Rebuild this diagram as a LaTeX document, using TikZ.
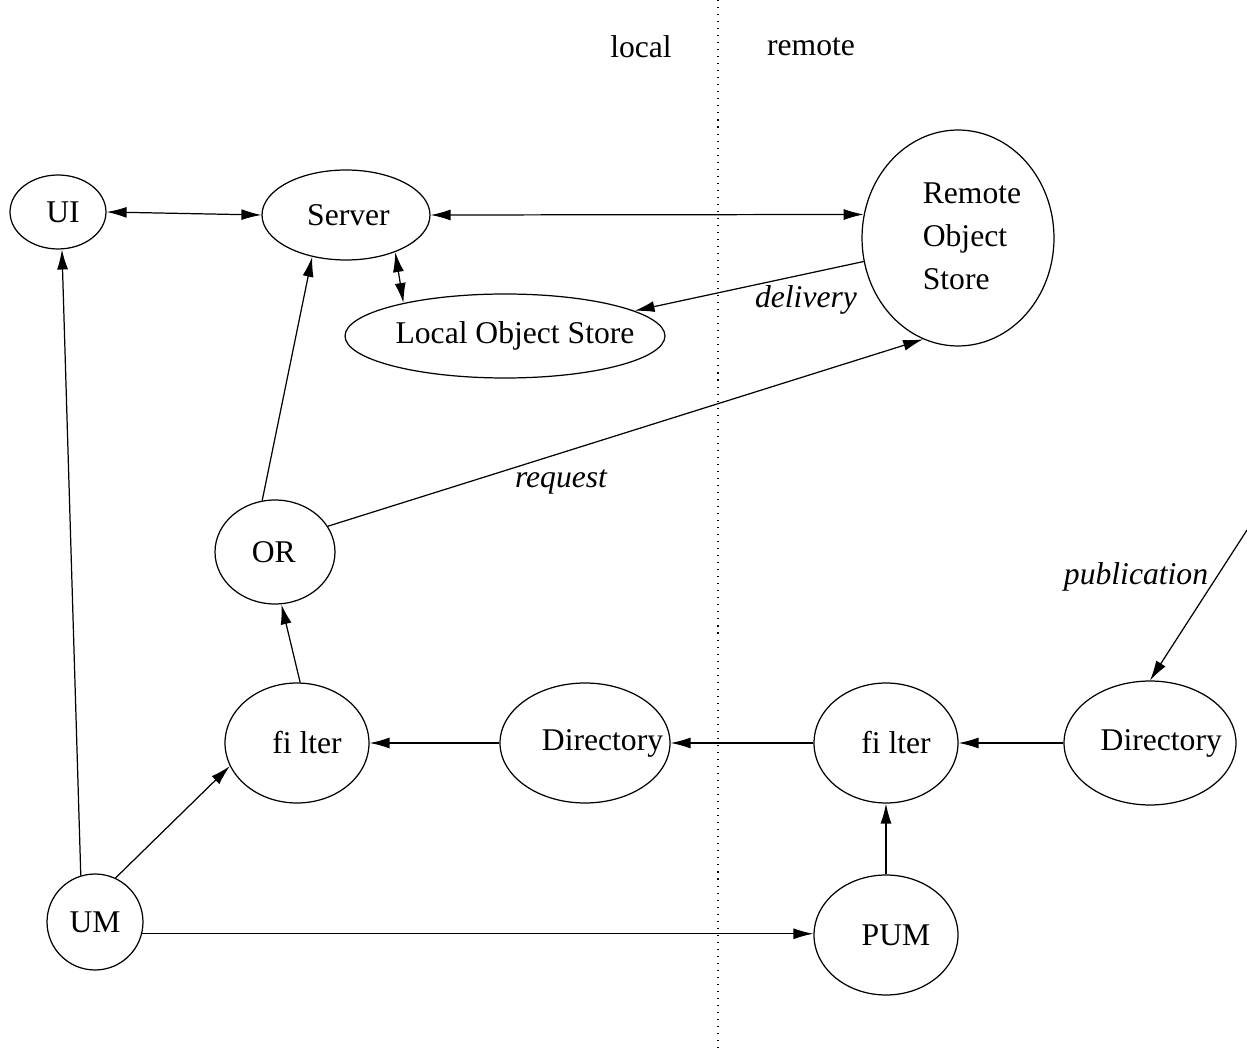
\documentclass[tikz,border=0pt]{standalone}
\usepackage{fontspec}
\setmainfont{Liberation Serif}
\usetikzlibrary{shapes.geometric,arrows.meta}

% text of a node, moved right by half of #1, without growing the node
\newcommand{\ntext}[2]{\makebox[0pt]{\hspace*{#1}#2}}

\begin{document}
\begin{tikzpicture}[
  x=0.02cm, y=-0.02cm,
  font=\fontsize{18}{24.5}\selectfont,
  line width=0.7pt,
  proc/.style 2 args={draw, ellipse, inner sep=0pt, minimum width=#1cm, minimum height=#2cm},
  arr/.style={-{Latex[length=0.4cm,width=0.22cm]}},
  biarr/.style={{Latex[length=0.4cm,width=0.22cm]}-{Latex[length=0.4cm,width=0.22cm]}},
  note/.style={font=\fontsize{18}{22}\selectfont\itshape},
]
  \useasboundingbox (0,0) rectangle (1247,1053);

  % local / remote split
  \draw[line width=0.6pt, dash pattern=on 0.6pt off 3.4pt] (718,0) -- (718,1053);
  \node (lloc) at (641,47) {local};
  \node (lrem) at (811,47) {remote};

  % Top row: user side and object stores
  \node[proc={1.92}{1.48}] (ui)  at (58,212)  {\ntext{0.2cm}{UI}};
  \node[proc={3.36}{1.8}]  (srv) at (346,215) {\ntext{0.1cm}{Server}};
  \node[proc={6.4}{1.68}]  (los) at (505,336) {\ntext{0.4cm}{Local Object Store}};
  \node[proc={3.84}{4.32}] (ros) at (958,238)
    {\ntext{0.56cm}{\begin{tabular}{@{}l@{}}Remote\\Object\\Store\end{tabular}}};

  % Middle: object requester
  \node[proc={2.4}{2.08}] (or) at (275,552) {\ntext{-0.05cm}{OR}};

  % Filter chain
  \node[proc={2.88}{2.4}]  (fl)  at (297,743)  {\ntext{0.4cm}{fi lter}};
  \node[proc={3.4}{2.4}]   (dl)  at (585,743)  {\ntext{0.7cm}{Directory}};
  \node[proc={2.88}{2.4}]  (fr)  at (886,743)  {\ntext{0.4cm}{fi lter}};
  \node[proc={3.44}{2.48}] (dr)  at (1150,743) {\ntext{0.45cm}{Directory}};

  % Bottom row
  \node[proc={1.92}{1.92}] (um)  at (95,922)  {UM};
  \node[proc={2.88}{2.4}]  (pum) at (886,935) {\ntext{0.4cm}{PUM}};

  \coordinate (pubsrc) at (1247,530);

  % Connectors
  \draw[biarr] (ui.east) -- (srv.west);
  \draw[biarr] (srv.east) -- (ros.166);
  \draw[biarr] (srv.-37) -- (los.162);
  \draw[arr] (ros.194) -- (los.11);
  \draw[arr] (or.26) -- (ros.251);
  \draw[arr] (or.104) -- (srv.231);
  \draw[arr] (fl.87) -- (or.-83);
  \draw[arr] (dl) -- (fl);
  \draw[arr] (fr) -- (dl);
  \draw[arr] (dr) -- (fr);
  \draw[arr] (pum) -- (fr);
  \draw[arr] (um.107) -- (ui.-84);
  \draw[arr] (um.65) -- (fl.199);
  \draw[arr] (um.-14) -- (um.-14 -| pum.west);
  \draw[arr] (pubsrc) -- (dr.north);

  % Labels
  \node[note] (ldel) at (806,300) {delivery};
  \node[note] (lreq) at (561,482) {request};
  \node[note] (lpub) at (1136,577) {publication};
\end{tikzpicture}
\end{document}
